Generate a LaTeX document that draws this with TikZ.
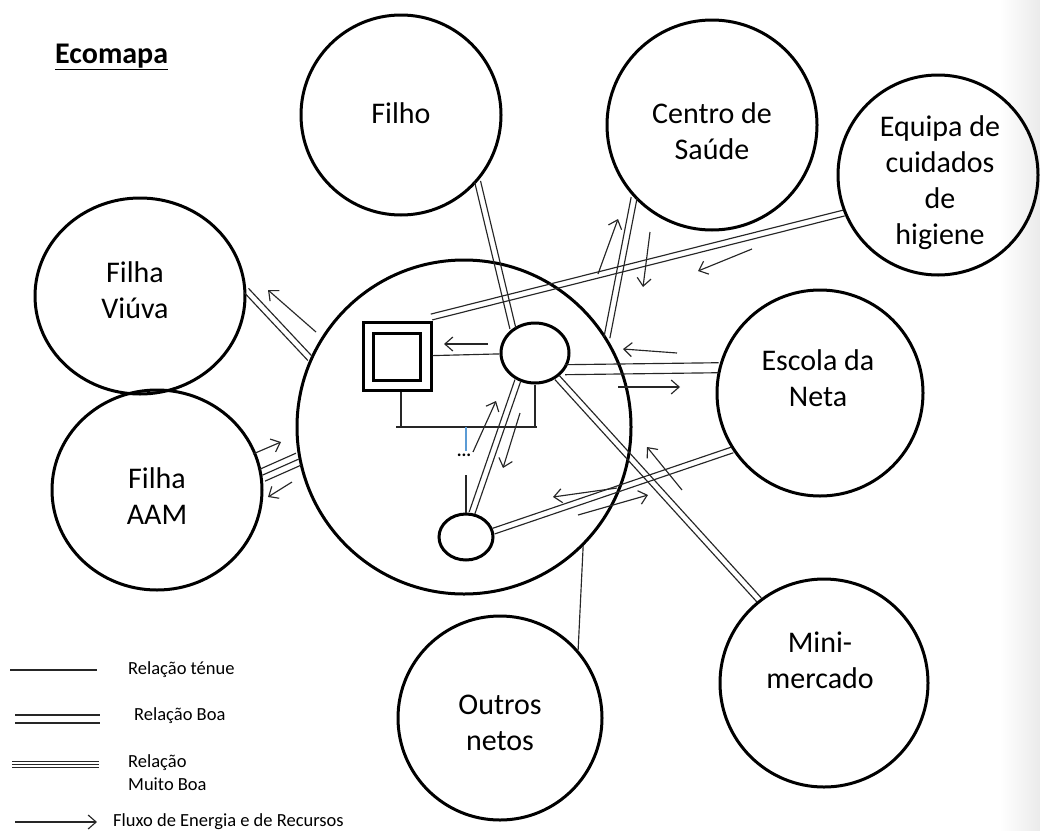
\documentclass[tikz,border=0pt]{standalone}
\usepackage{fontspec}
\setmainfont{Carlito}
\usetikzlibrary{calc,arrows.meta,shapes.geometric}

% two parallel strokes between two points (good relation)
\newcommand\twolines[3][3pt]{%
  \draw[tie] ($(#2)!#1!90:(#3)$) -- ($(#3)!#1!-90:(#2)$);
  \draw[tie] ($(#2)!#1!-90:(#3)$) -- ($(#3)!#1!90:(#2)$);}
% three parallel strokes between two points (very good relation)
\newcommand\threelines[3][6.5pt]{%
  \draw[tie] (#2) -- (#3);
  \twolines[#1]{#2}{#3}}

\begin{document}
\begin{tikzpicture}[x=1pt,y=-1pt,
  ring/.style={circle,draw,line width=3pt,minimum size=#1,inner sep=0pt},
  oval/.style 2 args={ellipse,draw,line width=3pt,minimum width=#1,minimum height=#2,inner sep=0pt},
  lbl/.style={font=\fontsize{30}{36}\selectfont,align=center},
  tie/.style={line width=1.15pt,draw=black!85},
  flow/.style={line width=1.15pt,draw=black!85,-{Straight Barb[length=8pt,width=14pt]}},
  leg/.style={font=\fontsize{18.5}{23}\selectfont,anchor=west,align=left,inner sep=0pt}]

\useasboundingbox (0,0) rectangle (1040,830);
\shade[left color=white,right color=black!8] (1000,0) rectangle (1040,830);

% title
\node[anchor=base west,inner sep=0pt,font=\fontsize{30}{34}\selectfont\bfseries] (title) at (55,63) {\underline{Ecomapa}};

% household and external systems
\node[ring=334pt] (big) at (464,427) {};
\node[ring=200pt] (filho) at (401,115) {};
\node[ring=210pt] (centro) at (712,125) {};
\node[ring=200pt] (equipa) at (938,175) {};
\node[oval={210pt}{196pt}] (viuva) at (140,296) {};
\node[oval={210pt}{200pt}] (aam) at (157,490) {};
\node[ring=206pt] (escola) at (820,393) {};
\node[ring=208pt] (mini) at (824,683) {};
\node[ring=204pt] (outros) at (500,718) {};

\node[lbl] (tfilho) at (401,113) {Filho};
\node[lbl] (tcentro) at (712,131) {Centro de\\Saúde};
\node[lbl] (tequipa) at (940,183) {Equipa de\\cuidados\\de\\higiene};
\node[lbl] (tviuva) at (135,290) {Filha\\Viúva};
\node[lbl] (taam) at (157,496) {Filha\\AAM};
\node[lbl] (tescola) at (818,378) {Escola da\\Neta};
\node[lbl] (tmini) at (820,660) {Mini-\\mercado};
\node[lbl] (toutros) at (500,723) {Outros\\netos};

% family members inside the household
\node[draw,line width=3pt,minimum size=68pt,inner sep=0pt] (sq) at (397,356.5) {};
\node[draw,line width=3pt,minimum size=47pt,inner sep=0pt] (sqin) at (sq) {};
\node[oval={68pt}{60pt}] (ell) at (535,353) {};
\node[oval={54pt}{46pt}] (bel) at (466,537) {};

% genogram lines
\coordinate (famL) at (396,427);
\coordinate (famR) at (537,427);
\coordinate (sqfoot) at ($(sq.south)+(4,0)$);
\draw[tie] (famL) -- (famR);
\draw[tie] (sqfoot) -- (sqfoot |- famL);
\draw[tie] (ell.south) -- (ell.south |- famR);
\draw[line width=1.15pt,draw={rgb,255:red,91;green,155;blue,213}] (bel.north |- famL) -- ++(0,24);
\node[inner sep=0pt,font=\fontsize{18}{20}\selectfont\bfseries] (dots) at (464,455) {...};
\draw[tie] (bel.north) -- ++(0,-38);
\draw[tie] (sq) -- (ell);

% relations
\twolines{filho.-41.8}{ell.132.8}
\twolines{centro.223.5}{big.32}
\coordinate (eqS) at ($(sq.north east)+(-1,-4)$);
\twolines{equipa.202}{eqS}
\twolines{viuva.3}{big.156}
\threelines{aam.8.7}{big.191}
\twolines[5pt]{ell.-29}{escola.166.5}
\twolines{ell.-48.7}{mini.128}
\twolines{bel.12.5}{escola.213.7}
\twolines{bel.76}{ell.238}
\draw[tie] (big.-45.7) -- (outros.41);

% flows of energy and resources
\draw[flow] (488,344) -- (444,344);
\draw[flow] (473,452) -- (496,401);
\draw[flow] (520,413) -- (503,468);
\draw[flow] (598,274) -- (618,219);
\draw[flow] (650,232) -- (643,287);
\draw[flow] (752,249) -- (698,271);
\draw[flow] (677,353) -- (623,349);
\draw[flow] (618,387) -- (680,387);
\draw[flow] (682,490) -- (647,447);
\draw[flow] (617,488) -- (553,497);
\draw[flow] (578,515) -- (648,495);
\draw[flow] (316,332) -- (268,290);
\draw[flow] (253,454) -- (281,442);
\draw[flow] (292,482) -- (268,497);

% legend
\coordinate (l1a) at (10,670); \coordinate (l1b) at (97,670);
\draw[tie] (l1a) -- (l1b);
\node[leg] (leg1) at (128,670) {Relação ténue};
\coordinate (l2a) at (15,719); \coordinate (l2b) at (100,719);
\twolines[4pt]{l2a}{l2b}
\node[leg] (leg2) at (134,716) {Relação Boa};
\coordinate (l3a) at (12,764.5); \coordinate (l3b) at (99,764.5);
\threelines[2.6pt]{l3a}{l3b}
\node[leg] (leg3) at (128,773) {Relação\\Muito Boa};
\coordinate (l4a) at (15,822); \coordinate (l4b) at (97,822);
\draw[flow] (l4a) -- (l4b);
\node[leg] (leg4) at (113,822) {Fluxo de Energia e de Recursos};
\end{tikzpicture}
\end{document}
